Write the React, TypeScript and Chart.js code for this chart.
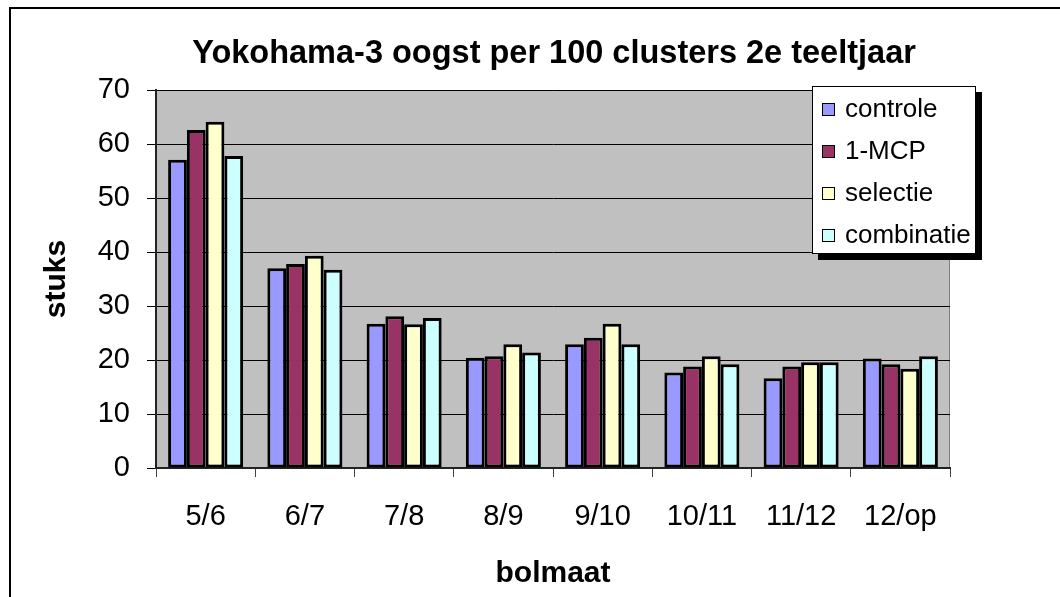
import { useEffect, useRef } from "react";
import { Chart, registerables } from "chart.js";

Chart.register(...registerables);

const categories = ["5/6", "6/7", "7/8", "8/9", "9/10", "10/11", "11/12", "12/op"];
const controle = [57.1, 37.0, 26.7, 20.4, 22.9, 17.7, 16.6, 20.3];
const mcp = [62.6, 37.8, 28.1, 20.7, 24.1, 18.8, 18.8, 19.2];
const selectie = [64.1, 39.3, 26.6, 22.9, 26.7, 20.7, 19.6, 18.4];
const combinatie = [57.8, 36.7, 27.8, 21.4, 22.9, 19.2, 19.6, 20.7];
const seriesNames = ["controle", "1-MCP", "selectie", "combinatie"];
const seriesColors = ["#9999FF", "#993366", "#FFFFCC", "#CCFFFF"];
const yMin = 0;
const yMax = 70;
const yStep = 10;
const titleText = "Yokohama-3 oogst per 100 clusters 2e teeltjaar";
const xTitle = "bolmaat";
const yTitle = "stuks";

const FONT = "'Liberation Sans', Arial, Helvetica, sans-serif";

const decorPlugin = {
  id: "decor",
  beforeDraw(chart: any) {
    const { ctx, chartArea, width, height } = chart;
    ctx.save();
    ctx.fillStyle = "#ffffff";
    ctx.fillRect(0, 0, width, height);
    ctx.strokeStyle = "#000";
    ctx.lineWidth = 2;
    ctx.strokeRect(10, 8, width + 20, height + 20);
    ctx.fillStyle = "#C0C0C0";
    ctx.fillRect(chartArea.left, chartArea.top, chartArea.right - chartArea.left, chartArea.bottom - chartArea.top);
    ctx.strokeStyle = "#808080";
    ctx.lineWidth = 1;
    ctx.strokeRect(chartArea.left + 0.5, chartArea.top + 0.5, chartArea.right - chartArea.left - 1, chartArea.bottom - chartArea.top);
    ctx.restore();
  },
  afterDraw(chart: any) {
    const { ctx, chartArea } = chart;
    const cx = (chartArea.left + chartArea.right) / 2;
    const cy = (chartArea.top + chartArea.bottom) / 2;
    ctx.save();
    ctx.fillStyle = "#000";
    ctx.font = `bold 32.5px ${FONT}`;
    ctx.textAlign = "center";
    ctx.textBaseline = "alphabetic";
    ctx.fillText(titleText, cx + 1, 63);
    ctx.font = `bold 30px ${FONT}`;
    ctx.fillText(xTitle, cx, 582);
    ctx.save();
    ctx.translate(65, cy);
    ctx.rotate(-Math.PI / 2);
    ctx.fillText(yTitle, 0, 0);
    ctx.restore();

    const lx = chartArea.right - 138;
    const ly = 86;
    const lw = 164;
    const lh = 168;
    ctx.fillStyle = "#000";
    ctx.fillRect(lx + 6, ly + 6, lw, lh);
    ctx.fillStyle = "#fff";
    ctx.fillRect(lx, ly, lw, lh);
    ctx.strokeStyle = "#000";
    ctx.lineWidth = 1;
    ctx.strokeRect(lx + 0.5, ly + 0.5, lw - 1, lh - 1);
    ctx.font = `26px ${FONT}`;
    ctx.textAlign = "left";
    ctx.textBaseline = "middle";
    seriesNames.forEach((name, i) => {
      const y = ly + 23 + i * 42;
      ctx.fillStyle = seriesColors[i];
      ctx.fillRect(lx + 10, y - 6, 12, 12);
      ctx.strokeStyle = "#000";
      ctx.strokeRect(lx + 10.5, y - 5.5, 12, 12);
      ctx.fillStyle = "#000";
      ctx.fillText(name, lx + 33, y + 1);
    });
    ctx.restore();
  },
};

export default function App() {
  const ref = useRef<HTMLCanvasElement | null>(null);

  useEffect(() => {
    document.body.style.margin = "0";
    const canvas = ref.current;
    if (!canvas) return;
    const values = [controle, mcp, selectie, combinatie];
    const chart = new Chart(canvas, {
      type: "bar",
      data: {
        labels: categories,
        datasets: seriesNames.map((name, i) => ({
          label: name,
          data: values[i],
          backgroundColor: seriesColors[i],
          borderColor: "#000",
          borderWidth: 3,
          borderSkipped: false,
          categoryPercentage: 0.756,
          barPercentage: 1,
        })),
      },
      options: {
        animation: false,
        responsive: false,
        devicePixelRatio: 1,
        layout: { padding: { top: 90, right: 110, bottom: 0, left: 0 } },
        plugins: {
          legend: { display: false },
          title: { display: false },
          tooltip: { enabled: false },
        },
        scales: {
          x: {
            grid: {
              display: true,
              drawOnChartArea: false,
              drawTicks: true,
              tickLength: 9,
              color: "#444",
              offset: true,
            },
            border: { display: true, color: "#222", width: 2 },
            ticks: {
              color: "#000",
              font: { size: 29, family: FONT },
              padding: 23,
              maxRotation: 0,
              autoSkip: false,
            },
            afterFit(scale: any) {
              scale.height = 129;
            },
          },
          y: {
            min: yMin,
            max: yMax,
            grid: {
              color: "#000",
              lineWidth: 1,
              tickLength: 9,
              drawTicks: true,
            },
            border: { display: true, color: "#222", width: 2 },
            ticks: {
              stepSize: yStep,
              color: "#000",
              font: { size: 29, family: FONT },
              padding: 17,
            },
            afterFit(scale: any) {
              scale.width = 156;
            },
          },
        },
      },
      plugins: [decorPlugin],
    });
    return () => chart.destroy();
  }, []);

  return <canvas ref={ref} width={1060} height={597} style={{ display: "block", width: 1060, height: 597 }} />;
}
